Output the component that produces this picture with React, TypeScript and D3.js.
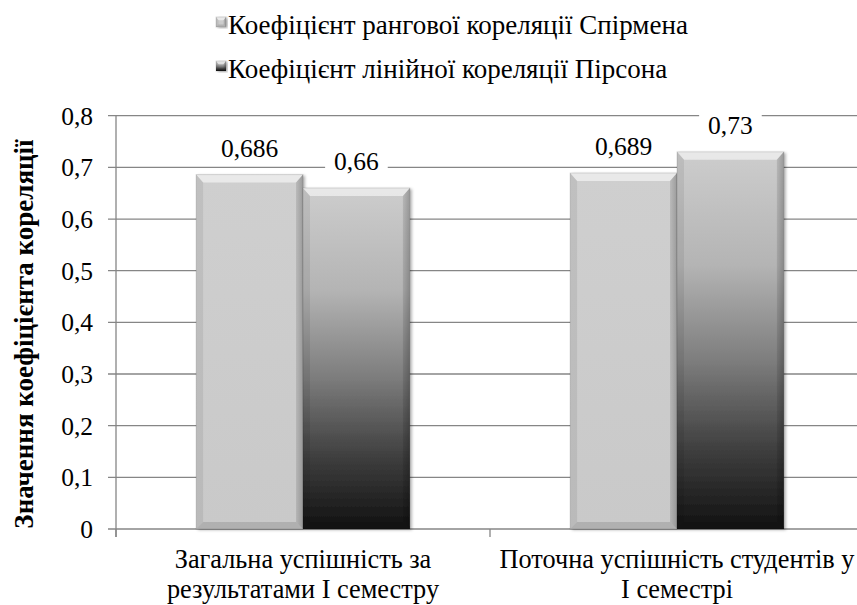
import React from "react";
import * as d3 from "d3";

const categories = [
  ["Загальна успішність за", "результатами І семестру"],
  ["Поточна успішність студентів у", "І семестрі"],
];
const seriesNames = [
  "Коефіцієнт рангової кореляції Спірмена",
  "Коефіцієнт лінійної кореляції Пірсона",
];
const spearman = [0.686, 0.689];
const pearson = [0.66, 0.73];
const yTicks = [0, 0.1, 0.2, 0.3, 0.4, 0.5, 0.6, 0.7, 0.8];
const axisTitle = "Значення коефіцієнта кореляції";

const W = 857;
const H = 605;
const FS = 25.5;
const FS_LEGEND = 27;
const FS_CAT = 26.3;
const txt = { fontFamily: "Liberation Serif" };

const fmt = (v: number) => String(v).replace(".", ",");
const textW = (s: string, fs: number) =>
  s.split("").reduce((a, c) => a + (c === "," ? 0.25 : 0.5), 0) * fs;

function Bevel({ x, y, w, h, fill }: { x: number; y: number; w: number; h: number; fill: string }) {
  const b = Math.min(7, w / 4);
  const t = Math.min(8, h / 3);
  const pts = (a: number[][]) => a.map((p) => p.join(",")).join(" ");
  return (
    <g>
      <rect x={x} y={y} width={w} height={h} fill={fill} filter="url(#shadow)" />
      <polygon points={pts([[x, y], [x + w, y], [x + w - b, y + t], [x + b, y + t]])} fill="#fff" opacity={0.55} />
      <polygon points={pts([[x, y], [x + b, y + t], [x + b, y + h - b], [x, y + h]])} fill="#000" opacity={0.07} />
      <polygon points={pts([[x + w, y], [x + w, y + h], [x + w - b, y + h - b], [x + w - b, y + t]])} fill="url(#sideShade)" />
      <polygon points={pts([[x, y + h], [x + w, y + h], [x + w - b, y + h - b], [x + b, y + h - b]])} fill="#000" opacity={0.12} />
      <rect x={x} y={y} width={w} height={h} fill="none" stroke="#000" strokeOpacity={0.12} strokeWidth={1} />
    </g>
  );
}

export default function App() {
  const plotLeft = 116;
  const plotTop = 115.7;
  const plotBottom = 529;
  const plotRight = 864;

  const x0 = d3
    .scaleBand<number>()
    .domain(categories.map((_, i) => i))
    .range([plotLeft, plotRight])
    .padding(0);
  const x1 = d3
    .scaleBand<number>()
    .domain([0, 1])
    .range([0, x0.bandwidth()])
    .paddingInner(0)
    .paddingOuter(0.75);
  const y = d3.scaleLinear().domain([0, 0.8]).range([plotBottom, plotTop]);

  const fills = ["url(#g1)", "url(#g2)"];
  const series = [spearman, pearson];

  const bars = categories.flatMap((_, ci) =>
    series.map((vals, si) => ({
      ci,
      si,
      v: vals[ci],
      x: (x0(ci) ?? 0) + (x1(si) ?? 0),
      w: x1.bandwidth(),
    }))
  );

  return (
    <svg width={W} height={H} style={{ position: "absolute", left: 0, top: 0, background: "#fff" }}>
      <defs>
        <linearGradient id="g1" x1="0" y1="0" x2="0" y2="1">
          <stop offset="0" stopColor="#cfcfcf" />
          <stop offset="1" stopColor="#c9c9c9" />
        </linearGradient>
        <linearGradient id="g2" x1="0" y1="0" x2="0" y2="1">
          <stop offset="0" stopColor="#cdcdcd" />
          <stop offset="0.3" stopColor="#b4b4b4" />
          <stop offset="0.55" stopColor="#7e7e7e" />
          <stop offset="0.8" stopColor="#3c3c3c" />
          <stop offset="1" stopColor="#121212" />
        </linearGradient>
        <linearGradient id="sideShade" x1="0" y1="0" x2="1" y2="0" gradientUnits="objectBoundingBox">
          <stop offset="0" stopColor="#000" stopOpacity={0.1} />
          <stop offset="1" stopColor="#000" stopOpacity={0.25} />
        </linearGradient>
        <filter id="shadow" x="-10%" y="-10%" width="130%" height="130%">
          <feDropShadow dx="2" dy="1" stdDeviation="1.5" floodColor="#000" floodOpacity="0.3" />
        </filter>
      </defs>

      {/* legend */}
      {seriesNames.map((name, i) => (
        <g key={name} transform={`translate(216, ${17 + i * 44})`}>
          <Bevel x={0} y={0} w={10} h={10} fill={fills[i]} />
          <text x={12} y={17} fontSize={FS_LEGEND} fill="#000" style={txt}>
            {name}
          </text>
        </g>
      ))}

      {/* gridlines + ticks */}
      {yTicks.map((t) => (
        <g key={t}>
          <line x1={plotLeft - 8} x2={W} y1={y(t)} y2={y(t)} stroke="#868686" strokeWidth={1.3} />
          <text x={93} y={y(t) + 9} fontSize={FS} textAnchor="end" fill="#000" style={txt}>
            {fmt(t)}
          </text>
        </g>
      ))}
      <line x1={plotLeft} x2={plotLeft} y1={plotTop} y2={plotBottom + 8} stroke="#868686" strokeWidth={1.3} />
      {categories.map((_, i) => (
        <line
          key={i}
          x1={x0(i)}
          x2={x0(i)}
          y1={plotBottom}
          y2={plotBottom + 8}
          stroke="#868686"
          strokeWidth={1.3}
        />
      ))}

      {/* bars */}
      {bars.map((b) => (
        <Bevel key={`${b.ci}-${b.si}`} x={b.x} y={y(b.v)} w={b.w} h={plotBottom - y(b.v)} fill={fills[b.si]} />
      ))}

      {/* data labels */}
      {bars.map((b) => {
        const s = fmt(b.v);
        const tw = textW(s, FS);
        const cx = b.x + b.w / 2;
        const base = y(b.v) - 18;
        return (
          <g key={`l-${b.ci}-${b.si}`}>
            <rect x={cx - tw / 2 - 9} y={base - 23} width={tw + 18} height={30} fill="#fff" />
            <text x={cx} y={base} fontSize={FS} textAnchor="middle" fill="#000" style={txt}>
              {s}
            </text>
          </g>
        );
      })}

      {/* category labels */}
      {categories.map((lines, i) => (
        <text key={i} fontSize={FS_CAT} textAnchor="middle" fill="#000" style={txt}>
          {lines.map((ln, j) => (
            <tspan key={j} x={(x0(i) ?? 0) + x0.bandwidth() / 2} y={568 + j * 30}>
              {ln}
            </tspan>
          ))}
        </text>
      ))}

      {/* axis title */}
      <text
        transform={`translate(33, 334) rotate(-90)`}
        fontSize={27}
        fontWeight="bold"
        textAnchor="middle"
        fill="#000"
        style={txt}
      >
        {axisTitle}
      </text>
    </svg>
  );
}
